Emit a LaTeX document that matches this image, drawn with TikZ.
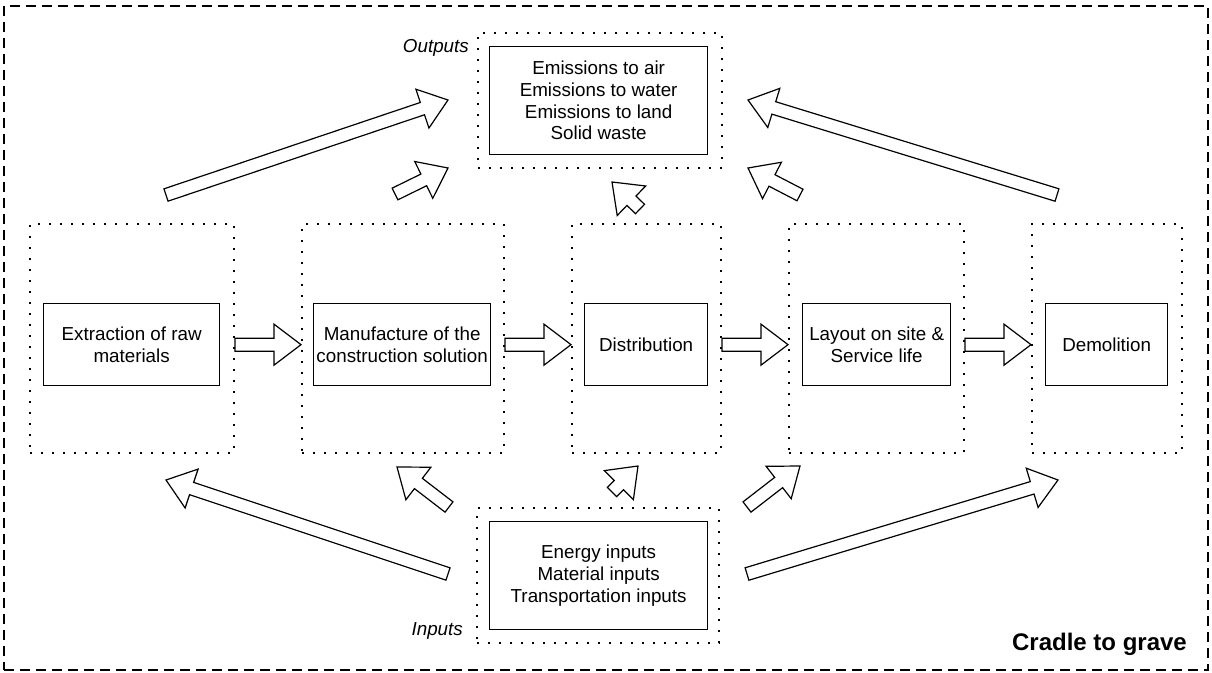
\documentclass[tikz,border=0pt]{standalone}
\usepackage{fontspec}
\setmainfont{Liberation Sans}
\usetikzlibrary{calc}
\newcommand{\mainfnt}{\fontsize{18.8}{21.6}\selectfont}
\tikzset{
  dotbox/.style={draw, line width=2pt, dash pattern=on 2pt off 9pt, inner sep=0pt, anchor=north west},
  solidbox/.style={draw, line width=1.3pt, inner sep=0pt, anchor=north west, align=center, font=\mainfnt},
  blockarr/.style={draw, fill=white, line width=1.2pt, line join=miter},
  outerbox/.style={draw, line width=2pt, dash pattern=on 10pt off 6pt, inner sep=0pt, anchor=north west},
  lbl/.style={font=\mainfnt\itshape, inner sep=0pt, anchor=east}
}
\newcommand{\blockarrow}[2]{%
  \coordinate (bh) at ($(#2)!27pt!(#1)$);
  \draw[blockarr] ($(#1)!6.5pt!90:(#2)$) -- ($(bh)!6.5pt!90:(#2)$) -- ($(bh)!20.5pt!90:(#2)$) -- (#2)
    -- ($(bh)!20.5pt!-90:(#2)$) -- ($(bh)!6.5pt!-90:(#2)$) -- ($(#1)!6.5pt!-90:(#2)$) -- cycle;}
\begin{document}
\begin{tikzpicture}[x=1pt,y=-1pt]
\useasboundingbox (0,0) rectangle (1212,672);
% frame
\node[outerbox, minimum width=1204pt, minimum height=664pt] (frame) at (3,5) {};
\node[font=\bfseries\fontsize{24}{28}\selectfont, anchor=base east, inner sep=0pt] (cg) at (1187,650) {Cradle to grave};
% outputs
\node[dotbox, minimum width=244pt, minimum height=135pt] (od) at (477,32) {};
\node[solidbox, minimum width=218pt, minimum height=108pt] (ob) at (489,46) {Emissions to air\\Emissions to water\\Emissions to land\\Solid waste};
\node[lbl] (ol) at (469,48) {Outputs};
% inputs
\node[dotbox, minimum width=242pt, minimum height=135pt] (id) at (476,507) {};
\node[solidbox, minimum width=218pt, minimum height=108pt] (ib) at (489,521) {Energy inputs\\Material inputs\\Transportation inputs};
\node[lbl] (il) at (463,631) {Inputs};
% stages
\node[dotbox, minimum width=204pt, minimum height=229pt] (d1) at (29,223) {};
\node[dotbox, minimum width=202pt, minimum height=229pt] (d2) at (301,223) {};
\node[dotbox, minimum width=149pt, minimum height=229pt] (d3) at (571,223) {};
\node[dotbox, minimum width=175pt, minimum height=229pt] (d4) at (788,223) {};
\node[dotbox, minimum width=150pt, minimum height=229pt] (d5) at (1031,223) {};
\node[solidbox, minimum width=176pt, minimum height=82pt] (b1) at (43,303) {Extraction of raw\\materials};
\node[solidbox, minimum width=177pt, minimum height=82pt] (b2) at (313,303) {Manufacture of the\\construction solution};
\node[solidbox, minimum width=123pt, minimum height=82pt] (b3) at (584,303) {Distribution};
\node[solidbox, minimum width=148pt, minimum height=82pt] (b4) at (802,303) {Layout on site \&\\Service life};
\node[solidbox, minimum width=122pt, minimum height=82pt] (b5) at (1045,303) {Demolition};
% horizontal arrows
\coordinate (h1s) at (d1.east |- b1.east); \coordinate (h1e) at (d2.west |- b2.west);
\coordinate (h2s) at (d2.east |- b2.east); \coordinate (h2e) at (d3.west |- b3.west);
\coordinate (h3s) at (d3.east |- b3.east); \coordinate (h3e) at (d4.west |- b4.west);
\coordinate (h4s) at (d4.east |- b4.east); \coordinate (h4e) at (d5.west |- b5.west);
\blockarrow{h1s}{h1e}
\blockarrow{h2s}{h2e}
\blockarrow{h3s}{h3e}
\blockarrow{h4s}{h4e}
% arrows to outputs
\coordinate (u1s) at (166,195);  \coordinate (u1e) at (448,100);
\coordinate (u2s) at (395,194);  \coordinate (u2e) at (448,168);
\coordinate (u3s) at (640,209);  \coordinate (u3e) at (612,182);
\coordinate (u4s) at (800,195);  \coordinate (u4e) at (748,168);
\coordinate (u5s) at (1057,195); \coordinate (u5e) at (748,100);
\blockarrow{u1s}{u1e}
\blockarrow{u2s}{u2e}
\blockarrow{u3s}{u3e}
\blockarrow{u4s}{u4e}
\blockarrow{u5s}{u5e}
% arrows from inputs
\coordinate (i1s) at (448,574); \coordinate (i1e) at (166,480);
\coordinate (i2s) at (449,507); \coordinate (i2e) at (397,467);
\coordinate (i3s) at (612,492); \coordinate (i3e) at (638,466);
\coordinate (i4s) at (747,507); \coordinate (i4e) at (800,466);
\coordinate (i5s) at (747,574); \coordinate (i5e) at (1058,480);
\blockarrow{i1s}{i1e}
\blockarrow{i2s}{i2e}
\blockarrow{i3s}{i3e}
\blockarrow{i4s}{i4e}
\blockarrow{i5s}{i5e}
\end{tikzpicture}
\end{document}
